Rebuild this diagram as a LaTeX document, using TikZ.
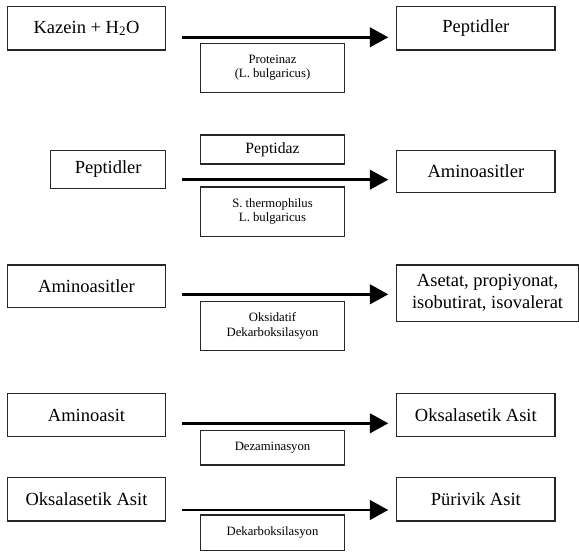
\documentclass[tikz,border=0pt]{standalone}
\usepackage{fontspec}
\setmainfont{Liberation Serif}
\usetikzlibrary{arrows.meta}
\begin{document}
\begin{tikzpicture}[x=1pt,y=1pt,
  box/.style={draw=black!85,line width=1.1pt,inner sep=0pt,align=center,
    font=\fontsize{18.5}{22}\selectfont},
  lbl/.style={draw=black!85,line width=1.1pt,inner sep=0pt,align=center,
    minimum width=143.6pt,font=\fontsize{12.7}{14.5}\selectfont},
  arr/.style={line width=2.8pt,-{Triangle[length=18.5pt,width=19.5pt]}}]
\useasboundingbox (0,0) rectangle (579,-552);
% row 1
\node[box,minimum width=158.4pt,minimum height=43.3pt] (L1) at (86.5,-28.35) {\raisebox{-2pt}{Kazein + H\textsubscript{2}O}};
\node[box,minimum width=158.3pt,minimum height=43.3pt] (R1) at (475.85,-28.35) {\raisebox{3pt}{Peptidler}};
\node[lbl,minimum height=49pt] (E1) at (272.5,-67.8) {Proteinaz\\(L. bulgaricus)};
\coordinate (A1s) at (182.3,-37.3);
\coordinate (A1e) at (388.3,-37.3);
\draw[arr] (A1s) -- (A1e);
% row 2
\node[box,minimum width=115pt,minimum height=38.4pt] (L2) at (108.2,-169.5) {Peptidler};
\node[box,minimum width=158.3pt,minimum height=42pt] (R2) at (475.85,-171.3) {Aminoasitler};
\node[lbl,minimum height=29pt,font=\fontsize{15.7}{18}\selectfont] (E2a) at (272.5,-149.5) {Peptidaz};
\node[lbl,minimum height=49.3pt] (E2b) at (272.5,-211.65) {S. thermophilus\\L. bulgaricus};
\coordinate (A2s) at (182.3,-179.7);
\coordinate (A2e) at (388.3,-179.7);
\draw[arr] (A2s) -- (A2e);
% row 3
\node[box,minimum width=158.4pt,minimum height=42.5pt] (L3) at (86.5,-286.25) {Aminoasitler};
\node[box,minimum width=181.8pt,minimum height=56.5pt,font=\fontsize{18.5}{22}\selectfont] (R3) at (487.6,-293.25) {Asetat, propiyonat,\\isobutirat, isovalerat};
\node[lbl,minimum height=48.6pt,font=\fontsize{12.7}{15.7}\selectfont] (E3) at (272.5,-326) {Oksidatif\\Dekarboksilasyon};
\coordinate (A3s) at (182.3,-294.3);
\coordinate (A3e) at (388.3,-294.3);
\draw[arr] (A3s) -- (A3e);
% row 4
\node[box,minimum width=158.4pt,minimum height=43.2pt] (L4) at (86.5,-415.1) {Aminoasit};
\node[box,minimum width=158.3pt,minimum height=43.2pt] (R4) at (475.85,-415.1) {Oksalasetik Asit};
\node[lbl,minimum height=34.3pt] (E4) at (272.5,-447.85) {Dezaminasyon};
\coordinate (A4s) at (182.3,-423.3);
\coordinate (A4e) at (388.3,-423.3);
\draw[arr] (A4s) -- (A4e);
% row 5
\node[box,minimum width=158.4pt,minimum height=43.5pt] (L5) at (86.5,-499.25) {Oksalasetik Asit};
\node[box,minimum width=158.3pt,minimum height=43.5pt] (R5) at (475.85,-499.25) {Pürivik Asit};
\node[lbl,minimum height=35.7pt] (E5) at (272.5,-532.85) {Dekarboksilasyon};
\coordinate (A5s) at (182.3,-510);
\coordinate (A5e) at (388.3,-510);
\draw[arr] (A5s) -- (A5e);
\end{tikzpicture}
\end{document}
